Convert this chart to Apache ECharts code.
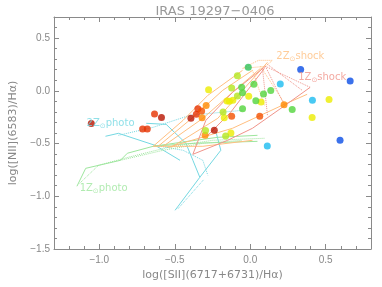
<!DOCTYPE html>
<html><head><meta charset="utf-8">
<script src="https://cdn.jsdelivr.net/npm/echarts@6/dist/echarts.min.js"></script>
<style>html,body{margin:0;padding:0;background:#fff}#c{width:382px;height:287px}</style>
</head><body><div id="c"></div>
<script>
// ---- data (x = log([SII]/Ha), y = log([NII]/Ha)) ----
const titleText = 'IRAS 19297\u22120406';
const xName = 'log([SII](6717+6731)/H\u03b1)';
const yName = 'log([NII](6583)/H\u03b1)';

const ptsDarkRed = [[-1.053,-0.311],[-0.588,-0.254],[-0.393,-0.261],[-0.238,-0.374]];
const ptsRed = [[-0.634,-0.220],[-0.713,-0.362],[-0.682,-0.362],[-0.357,-0.223],[-0.347,-0.169]];
const ptsOrangeRed = [[-0.322,-0.191],[-0.123,-0.242],[0.063,-0.240]];
const ptsOrange = [[-0.292,-0.139],[-0.319,-0.256],[-0.299,-0.422],[0.224,-0.133]];
const ptsYellow = [[-0.172,-0.256],[-0.128,-0.401],[-0.276,0.011],[-0.154,-0.097],[-0.138,-0.100],[-0.115,-0.090],[-0.010,-0.052],[0.072,-0.106],[0.522,-0.082],[0.410,-0.253]];
const ptsYellowGreen = [[-0.296,-0.377],[-0.180,-0.201],[-0.163,-0.428],[-0.123,0.027],[-0.085,0.142],[-0.085,-0.049]];
const ptsGreen = [[-0.057,0.035],[0.024,0.062],[-0.051,-0.019],[-0.051,-0.169],[0.037,-0.093],[0.088,-0.031],[0.136,0.002],[0.278,-0.178]];
const ptsDarkGreen = [[-0.013,0.223]];
const ptsCyan = [[0.199,0.064],[0.412,-0.090],[0.113,-0.524]];
const ptsBlue = [[0.334,0.202],[0.662,0.092],[0.595,-0.469]];

const photo2Z_solid = [
  [[-0.959,-0.431],[-0.873,-0.403],[-0.630,-0.517],[-0.465,-0.659]],
  [[-0.689,-0.308],[-0.557,-0.318],[-0.426,-0.498],[-0.380,-0.659],[-0.334,-0.820]],
  [[-0.228,-0.384],[-0.195,-0.564],[-0.334,-0.820],[-0.498,-1.133]]
];
const photo2Z_dot = [
  [[-0.873,-0.422],[-0.643,-0.346],[-0.399,-0.232],[-0.051,-0.185]],
  [[-0.630,-0.517],[-0.445,-0.564],[-0.314,-0.659],[-0.281,-0.801]],
  [[-0.310,-0.845],[-0.480,-1.120]]
];
const photo1Z_solid = [
  [[-1.148,-0.905],[-1.090,-0.735],[-0.860,-0.659],[-0.814,-0.592],[-0.643,-0.526],[-0.380,-0.498],[0.048,-0.479]],
  [[-0.643,-0.526],[-0.413,-0.479],[-0.215,-0.441],[0.048,-0.422]]
];
const photo1Z_dot = [
  [[-1.130,-0.877],[-1.005,-0.706],[-0.807,-0.630],[-0.544,-0.536],[-0.248,-0.469],[0.094,-0.450]],
  [[-0.860,-0.659],[-0.577,-0.564],[-0.314,-0.498],[-0.051,-0.469]]
];
const shock2Z_solid = [
  [[-0.643,-0.526],[-0.445,-0.280],[-0.281,-0.043],[-0.051,0.194]],
  [[-0.610,-0.526],[-0.380,-0.252],[-0.182,0.005],[0.015,0.194]],
  [[-0.577,-0.526],[-0.314,-0.261],[-0.117,-0.014],[0.068,0.213]],
  [[-0.524,-0.536],[-0.215,-0.261],[0.114,0.270]],
  [[-0.544,-0.536],[-0.117,-0.355],[0.226,-0.128],[0.377,-0.033]],
  [[-0.643,-0.526],[-0.314,-0.526],[0.015,-0.469]]
];
const shock2Z_dot = [
  [[-0.051,0.213],[0.055,0.289],[0.147,0.289],[0.101,0.232],[-0.051,0.213]],
  [[0.068,0.232],[0.232,-0.128]],
  [[0.015,0.194],[0.094,-0.137]]
];
const shock1Z_solid = [
  [[-0.380,-0.602],[-0.294,-0.280],[-0.117,-0.014],[0.101,0.232]],
  [[-0.380,-0.602],[-0.149,-0.469],[0.015,-0.355],[0.213,-0.156],[0.397,0.033]],
  [[-0.281,-0.422],[-0.130,-0.204],[0.094,0.213]]
];
const shock1Z_dot = [
  [[0.101,0.232],[0.397,0.033]],
  [[0.101,0.232],[0.226,-0.137]],
  [[0.114,0.251],[0.344,0.005]],
  [[0.081,0.213],[0.114,-0.232]]
];

const gridLabels = [
  {pre:'2Z', post:'photo', pos:[-1.084,-0.308], color:'#74d8e2'},
  {pre:'1Z', post:'photo', pos:[-1.130,-0.924], color:'#9de69d'},
  {pre:'2Z', post:'shock', pos:[0.173,0.327], color:'#ffbf80'},
  {pre:'1Z', post:'shock', pos:[0.318,0.123], color:'#f0948a'}
];

// ---- build ----
const axisCol = '#8a8a8a';
const C = {cyan:'#74d8e2', green:'#9de69d', orange:'#ffbf80', red:'#f0948a'};
const series = [];
function addLines(groups, color, type){
  groups.forEach(g => series.push({
    type:'line', data:g, showSymbol:false, silent:true, z:1,
    lineStyle:{color:color, width:1, type:type}, animation:false
  }));
}
addLines(photo2Z_solid, C.cyan, 'solid');
addLines(photo2Z_dot, C.cyan, 'dotted');
addLines(photo1Z_solid, C.green, 'solid');
addLines(photo1Z_dot, C.green, 'dotted');
addLines(shock2Z_solid, C.orange, 'solid');
addLines(shock2Z_dot, C.orange, 'dotted');
addLines(shock1Z_solid, C.red, 'solid');
addLines(shock1Z_dot, C.red, 'dotted');

[[ptsDarkRed,'#b81400'],[ptsRed,'#e63200'],[ptsOrangeRed,'#f25000'],[ptsOrange,'#ff8a00'],
 [ptsYellow,'#ecec00'],[ptsYellowGreen,'#b4e61e'],[ptsGreen,'#52d43c'],[ptsDarkGreen,'#30c25a'],
 [ptsCyan,'#1cbcf0'],[ptsBlue,'#0a4ee6']].forEach(([d,c]) => series.push({
  type:'scatter', data:d, symbol:'circle', symbolSize:7, z:5, silent:true,
  itemStyle:{color:c}, animation:false
}));

gridLabels.forEach(l => series.push({
  type:'scatter', data:[l.pos], symbolSize:0, silent:true, z:6, animation:false,
  label:{show:true, position:'right', distance:0,
    formatter:'{a|'+l.pre+'}{s|\u2299}{a|'+l.post+'}',
    rich:{
      a:{fontFamily:'DejaVu Sans', fontSize:10, color:l.color, lineHeight:12},
      s:{fontFamily:'DejaVu Sans', fontSize:7, color:l.color, lineHeight:7, verticalAlign:'bottom'}
    }}
}));

const fmt = v => v.toFixed(1).replace('-', '\u2212');
function mkX(pos, main){
  return {
    type:'value', position:pos, min:-1.3, max:0.8, splitNumber:5,
    axisLine:{show:true, onZero:false, lineStyle:{color:axisCol, width:1}},
    axisTick:{show:true, inside:true, length:5, lineStyle:{color:axisCol}},
    minorTick:{show:true, splitNumber:5, length:3, lineStyle:{color:axisCol}},
    splitLine:{show:false},
    axisLabel:{show:main, showMinLabel:false, showMaxLabel:false, formatter:fmt, margin:6,
      color:'#888', fontFamily:'Liberation Sans', fontSize:10},
    name: main ? xName : '', nameLocation:'middle', nameGap:18,
    nameTextStyle:{color:'#888', fontFamily:'DejaVu Sans', fontSize:11}
  };
}
function mkY(pos, main){
  return {
    type:'value', position:pos, min:-1.5, max:0.7, interval:0.5,
    axisLine:{show:true, onZero:false, lineStyle:{color:axisCol, width:1}},
    axisTick:{show:true, inside:true, length:5, lineStyle:{color:axisCol}},
    minorTick:{show:true, splitNumber:5, length:3, lineStyle:{color:axisCol}},
    splitLine:{show:false},
    axisLabel:{show:main, showMaxLabel:false, formatter:fmt, margin:4,
      color:'#888', fontFamily:'Liberation Sans', fontSize:10},
    name: main ? yName : '', nameLocation:'middle', nameGap:35, nameRotate:90,
    nameTextStyle:{color:'#888', fontFamily:'DejaVu Sans', fontSize:11}
  };
}

const chart = echarts.init(document.getElementById('c'), null, {renderer:'canvas'});
chart.setOption({
  animation:false,
  backgroundColor:'#fff',
  title:{text:titleText, left:210, top:0, textAlign:'center',
    textStyle:{color:'#999', fontFamily:'DejaVu Sans', fontSize:13, fontWeight:'normal'}},
  grid:{left:49, right:11, top:17, bottom:38},
  xAxis:[mkX('bottom', true), mkX('top', false)],
  yAxis:[mkY('left', true), mkY('right', false)],
  series:series
});
</script></body></html>
